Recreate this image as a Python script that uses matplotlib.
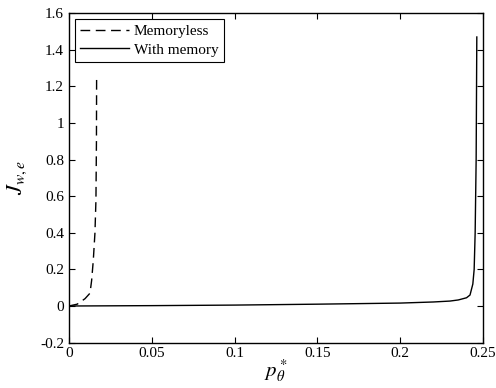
import matplotlib
matplotlib.use('Agg')
import matplotlib.pyplot as plt
from matplotlib.ticker import FormatStrFormatter

plt.rcParams['font.family'] = 'Liberation Serif'
plt.rcParams['mathtext.fontset'] = 'stix'
plt.rcParams['font.size'] = 11
plt.rcParams['axes.unicode_minus'] = False

# Memoryless curve
p_memoryless = [0, 0.005, 0.0097, 0.0127, 0.0137, 0.0147, 0.0157, 0.0163, 0.0166, 0.0167]
j_memoryless = [0, 0.01, 0.04, 0.07, 0.14, 0.25, 0.40, 0.58, 0.90, 1.25]

# With memory curve
p_memory = [0, 0.05, 0.1, 0.15, 0.2, 0.22, 0.23, 0.235, 0.24, 0.2421, 0.2438,
            0.2446, 0.2452, 0.2458, 0.2462]
j_memory = [0, 0.002, 0.005, 0.01, 0.016, 0.022, 0.027, 0.033, 0.045, 0.06, 0.12,
            0.2, 0.4, 0.8, 1.47]

x_ticks = [0, 0.05, 0.1, 0.15, 0.2, 0.25]
y_ticks = [-0.2, 0, 0.2, 0.4, 0.6, 0.8, 1.0, 1.2, 1.4, 1.6]

fig = plt.figure(figsize=(4.96, 3.88), dpi=100, facecolor='white')
ax = fig.add_axes([0.139, 0.117, 0.835, 0.849])

ax.plot(p_memoryless, j_memoryless, color='black', linestyle=(0, (7, 4)),
        linewidth=1.0, label='Memoryless')
ax.plot(p_memory, j_memory, color='black', linestyle='-', linewidth=1.0,
        label='With memory')

ax.set_xlim(0, 0.25)
ax.set_ylim(-0.2, 1.6)
ax.set_xticks(x_ticks)
ax.set_yticks(y_ticks)
ax.xaxis.set_major_formatter(FormatStrFormatter('%g'))
ax.yaxis.set_major_formatter(FormatStrFormatter('%g'))
ax.tick_params(direction='in', top=True, right=True, length=4, width=0.8,
               labelsize=11)
for s in ax.spines.values():
    s.set_linewidth(1.0)

ax.set_xlabel(r'$p_\theta^*$', fontsize=15, labelpad=-2)
ax.set_ylabel(r'$J_{w,e}$', fontsize=16, labelpad=8)

leg = ax.legend(loc='upper left', bbox_to_anchor=(0.0, 1.0), fontsize=11,
                frameon=True, fancybox=False, edgecolor='black', framealpha=1,
                handlelength=3.2, handletextpad=0.3, borderpad=0.35,
                labelspacing=0.3, borderaxespad=0.4)
leg.get_frame().set_linewidth(0.8)

plt.savefig('out.png', dpi=100, facecolor='white')
